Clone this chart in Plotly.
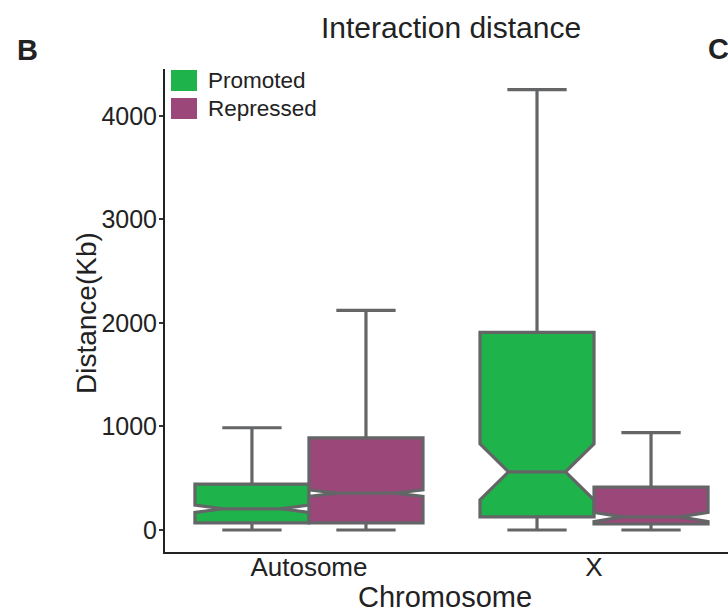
import plotly.graph_objects as go

categories = ["Autosome", "X"]
series = ["Promoted", "Repressed"]
colors = {"Promoted": "#1fb34b", "Repressed": "#9b4779"}

lower = {"Promoted": [0, 0], "Repressed": [0, 0]}
q1 = {"Promoted": [68, 126], "Repressed": [68, 58]}
median = {"Promoted": [205, 562], "Repressed": [357, 126]}
q3 = {"Promoted": [444, 1909], "Repressed": [891, 415]}
upper = {"Promoted": [988, 4254], "Repressed": [2122, 940]}
notch = {"Promoted": [35, 271], "Repressed": [32, 44]}

W, H = 728, 613
L, R, T, B = 165, 0, 69, 61
pw, ph = W - L - R, H - T - B

def px(x):
    return (x - L) / pw

def py(y):
    return (H - B - y) / ph

fig = go.Figure()
for s in series:
    fig.add_trace(go.Box(
        name=s,
        x=categories,
        q1=q1[s], median=median[s], q3=q3[s],
        lowerfence=lower[s], upperfence=upper[s],
        notched=True, notchspan=notch[s], notchwidth=0.25,
        whiskerwidth=0.52,
        fillcolor=colors[s],
        line=dict(color="#646567", width=3.2),
        boxpoints=False,
        showlegend=False,
    ))

shapes = []
annotations = []
# legend
for i, s in enumerate(series):
    y0 = 70 + i * 28
    shapes.append(dict(type="rect", xref="paper", yref="paper",
                       x0=px(171), x1=px(197), y0=py(y0 + 21), y1=py(y0),
                       fillcolor=colors[s], line=dict(width=0)))
    annotations.append(dict(xref="paper", yref="paper", x=px(206), y=py(y0 + 10.5),
                            text=s, showarrow=False, xanchor="left", yanchor="middle",
                            font=dict(size=22.5, color="#222222")))

annotations.append(dict(xref="paper", yref="paper", x=px(15), y=py(50), text="<b>B</b>",
                        showarrow=False, xanchor="left", yanchor="middle",
                        font=dict(size=29, color="#222222")))
annotations.append(dict(xref="paper", yref="paper", x=px(706), y=py(49), text="<b>C</b>",
                        showarrow=False, xanchor="left", yanchor="middle",
                        font=dict(size=29, color="#222222")))
annotations.append(dict(xref="paper", yref="paper", x=px(451), y=py(27), text="Interaction distance",
                        showarrow=False, xanchor="center", yanchor="middle",
                        font=dict(size=30, color="#222222")))
annotations.append(dict(xref="paper", yref="paper", x=px(445), y=py(597), text="Chromosome",
                        showarrow=False, xanchor="center", yanchor="middle",
                        font=dict(size=29, color="#222222")))
annotations.append(dict(xref="paper", yref="paper", x=px(86), y=py(313), text="Distance(Kb)",
                        showarrow=False, xanchor="center", yanchor="middle", textangle=-90,
                        font=dict(size=28, color="#222222")))

fig.update_layout(
    width=W, height=H,
    margin=dict(l=L, r=R, t=T, b=B, pad=0),
    paper_bgcolor="white", plot_bgcolor="white",
    boxmode="group", boxgap=0.2, boxgroupgap=0,
    font=dict(family="Liberation Sans, Arial, sans-serif", color="#222222"),
    shapes=shapes, annotations=annotations,
    xaxis=dict(type="category", range=[-0.505, 1.47], showgrid=False, zeroline=False,
               showline=True, linecolor="#222222", linewidth=2, ticks="",
               ticklabelstandoff=-9,
               tickfont=dict(size=26, color="#222222")),
    yaxis=dict(range=[-212.6, 4454], showgrid=False, zeroline=False,
               showline=True, linecolor="#222222", linewidth=2,
               ticks="outside", ticklen=4, tickwidth=1.5, tickcolor="#333333",
               ticklabelstandoff=-3,
               tickvals=[0, 1000, 2000, 3000, 4000],
               tickfont=dict(size=25, color="#222222")),
)

fig.write_html("out.html")
